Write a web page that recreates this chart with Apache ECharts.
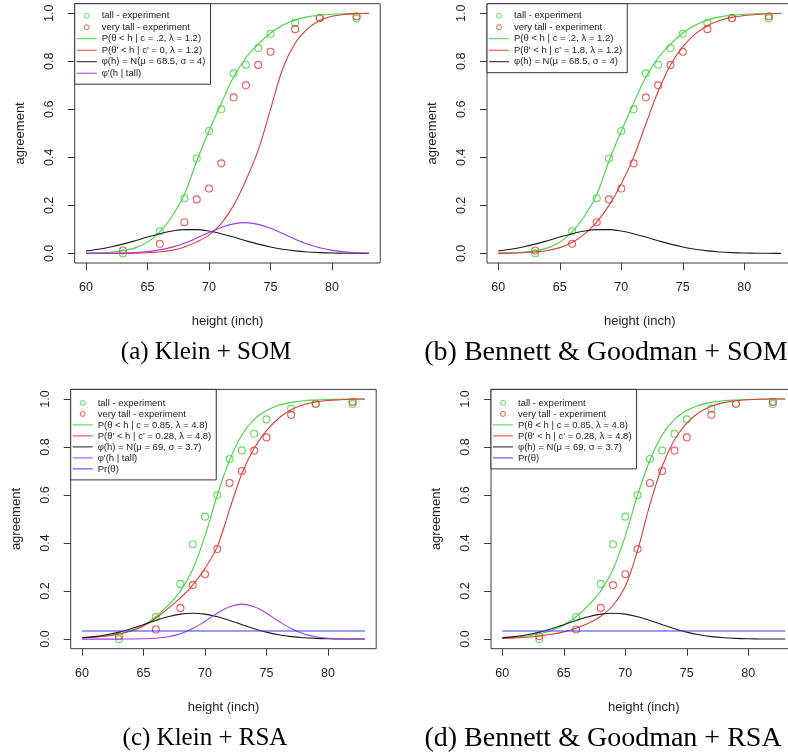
<!DOCTYPE html>
<html>
<head>
<meta charset="utf-8">
<script src="https://cdn.jsdelivr.net/npm/echarts@6/dist/echarts.min.js"></script>
<style>
  html, body { margin: 0; padding: 0; background: #fff; }
  #chart { width: 788px; height: 755px; }
</style>
</head>
<body>
<div id="chart"></div>
<script>
// ---- axis ticks ----
const xTicks = [60, 65, 70, 75, 80];
const yTicks = [0, 0.2, 0.4, 0.6, 0.8, 1.0];

// ---- experimental agreement ratings ----
const expHeights  = [63, 66, 68, 69, 70, 71, 72, 73, 74, 75, 77, 79, 82];
const tallExp     = [0.0, 0.092, 0.23, 0.395, 0.51, 0.6, 0.75, 0.786, 0.855, 0.915, 0.96, 0.98, 0.979];
const veryTallExp = [0.012, 0.04, 0.13, 0.225, 0.27, 0.375, 0.65, 0.7, 0.785, 0.84, 0.934, 0.98, 0.988];

// ---- model curves, sampled at each inch from 60 to 83 ----
const curveHeights = [60, 61, 62, 63, 64, 65, 66, 67, 68, 69, 70, 71, 72, 73, 74, 75, 76, 77, 78, 79, 80, 81, 82, 83];

// P(θ < h | c = .2, λ = 1.2)
const tallSOM = [0.001, 0.002, 0.005, 0.011, 0.023, 0.047, 0.09, 0.155, 0.245, 0.385, 0.51, 0.625, 0.735, 0.815, 0.872, 0.918, 0.95, 0.972, 0.985, 0.992, 0.996, 0.998, 0.999, 1.0];
// P(θ' < h | c' = 0, λ = 1.2)
const veryTallKleinSOM = [0.0, 0.0, 0.0, 0.0, 0.001, 0.003, 0.006, 0.013, 0.027, 0.048, 0.076, 0.125, 0.2, 0.305, 0.43, 0.6, 0.77, 0.875, 0.935, 0.97, 0.988, 0.995, 0.998, 1.0];
// P(θ' < h | c' = 1.8, λ = 1.2)
const veryTallBGSOM = [0.0, 0.001, 0.003, 0.006, 0.012, 0.024, 0.045, 0.08, 0.13, 0.2, 0.29, 0.4, 0.54, 0.675, 0.785, 0.86, 0.913, 0.948, 0.97, 0.983, 0.991, 0.995, 0.998, 0.999];
// φ(h) = N(μ = 68.5, σ = 4)
const priorSOM = [0.0104, 0.0172, 0.0266, 0.0387, 0.0529, 0.068, 0.082, 0.093, 0.099, 0.099, 0.093, 0.082, 0.068, 0.0529, 0.0387, 0.0266, 0.0172, 0.0104, 0.0059, 0.0032, 0.0016, 0.0008, 0.0003, 0.0001];
// φ'(h | tall), Klein + SOM
const posteriorSOM = [0.0001, 0.0002, 0.0006, 0.0014, 0.0034, 0.0073, 0.0145, 0.026, 0.0425, 0.0637, 0.087, 0.108, 0.123, 0.128, 0.121, 0.1046, 0.0824, 0.0592, 0.0388, 0.0232, 0.0127, 0.0063, 0.0029, 0.0012];

// P(θ < h | c = 0.85, λ = 4.8)
const tallRSA = [0.005, 0.008, 0.013, 0.022, 0.036, 0.058, 0.093, 0.14, 0.2, 0.29, 0.43, 0.6, 0.745, 0.85, 0.915, 0.952, 0.974, 0.986, 0.993, 0.996, 0.998, 0.999, 1.0, 1.0];
// P(θ' < h | c' = 0.28, λ = 4.8), Klein
const veryTallKleinRSA = [0.005, 0.008, 0.013, 0.021, 0.034, 0.055, 0.087, 0.128, 0.172, 0.225, 0.295, 0.385, 0.54, 0.69, 0.795, 0.868, 0.92, 0.955, 0.976, 0.988, 0.994, 0.997, 0.999, 1.0];
// P(θ' < h | c' = 0.28, λ = 4.8), Bennett & Goodman
const veryTallBGRSA = [0.003, 0.005, 0.008, 0.013, 0.02, 0.03, 0.045, 0.066, 0.095, 0.14, 0.22, 0.37, 0.56, 0.72, 0.83, 0.9, 0.944, 0.97, 0.985, 0.993, 0.997, 0.999, 1.0, 1.0];
// φ(h) = N(μ = 69, σ = 3.7)
const priorRSA = [0.0056, 0.0104, 0.018, 0.0289, 0.0433, 0.06, 0.0776, 0.0931, 0.104, 0.1078, 0.104, 0.0931, 0.0776, 0.06, 0.0433, 0.0289, 0.018, 0.0104, 0.0056, 0.0028, 0.0013, 0.0006, 0.0002, 0.0001];
// φ'(h | tall), Klein + RSA
const posteriorRSA = [0.0, 0.0, 0.0, 0.0001, 0.0003, 0.0012, 0.0037, 0.0098, 0.0224, 0.044, 0.0742, 0.108, 0.135, 0.1456, 0.135, 0.108, 0.0742, 0.044, 0.0224, 0.0098, 0.0037, 0.0012, 0.0003, 0.0001];
// Pr(θ), flat over the height range
const thetaPriorHeights = [60, 83];
const thetaPrior = [0.034, 0.034];

// ---- styling ----
const SANS = '"Liberation Sans", Arial, Helvetica, sans-serif';
const SERIF = '"Liberation Serif", "Times New Roman", serif';
const COL = {
  tall: '#3fd63f',
  veryTall: '#e23a3a',
  prior: '#1c1c1c',
  posterior: '#a03ce8',
  theta: '#3a3af0'
};
const TEXT = '#1e1e1e';
const FRAME = '#3a3a3a';
// a plain horizontal stroke used as the legend key for curves
const LINE_KEY = 'path://M0,0h20v1h-20z';

const NAME_TALL = 'tall - experiment';
const NAME_VTALL = 'very tall - experiment';

const pairs = (xs, ys) => xs.map((x, i) => [x, ys[i]]);

const panels = [
  {
    left: 74.7, top: 3.7, caption: '(a) Klein + SOM', capX: 206, capY: 352.5, capSize: 25,
    legendGap: 1.5, legendPadTop: 7,
    lines: [
      { name: 'P(θ < h | c = .2, λ = 1.2)', xs: curveHeights, ys: tallSOM, color: COL.tall },
      { name: "P(θ' < h | c' = 0, λ = 1.2)", xs: curveHeights, ys: veryTallKleinSOM, color: COL.veryTall },
      { name: 'φ(h) = N(μ = 68.5, σ = 4)', xs: curveHeights, ys: priorSOM, color: COL.prior },
      { name: "φ'(h | tall)", xs: curveHeights, ys: posteriorSOM, color: COL.posterior }
    ]
  },
  {
    left: 487, top: 3.7, caption: '(b) Bennett & Goodman + SOM', capX: 606, capY: 352.5, capSize: 28,
    legendGap: 1.5, legendPadTop: 7,
    lines: [
      { name: 'P(θ < h | c = .2, λ = 1.2)', xs: curveHeights, ys: tallSOM, color: COL.tall },
      { name: "P(θ' < h | c' = 1.8, λ = 1.2)", xs: curveHeights, ys: veryTallBGSOM, color: COL.veryTall },
      { name: 'φ(h) = N(μ = 68.5, σ = 4)', xs: curveHeights, ys: priorSOM, color: COL.prior }
    ]
  },
  {
    left: 70.7, top: 389.4, caption: '(c) Klein + RSA', capX: 205, capY: 738.5, capSize: 25,
    legendGap: 1, legendPadTop: 8.5,
    lines: [
      { name: 'P(θ < h | c = 0.85, λ = 4.8)', xs: curveHeights, ys: tallRSA, color: COL.tall },
      { name: "P(θ' < h | c' = 0.28, λ = 4.8)", xs: curveHeights, ys: veryTallKleinRSA, color: COL.veryTall },
      { name: 'φ(h) = N(μ = 69, σ = 3.7)', xs: curveHeights, ys: priorRSA, color: COL.prior },
      { name: "φ'(h | tall)", xs: curveHeights, ys: posteriorRSA, color: COL.posterior },
      { name: 'Pr(θ)', xs: thetaPriorHeights, ys: thetaPrior, color: COL.theta }
    ]
  },
  {
    left: 491, top: 389.4, caption: '(d) Bennett & Goodman + RSA', capX: 603, capY: 738.5, capSize: 28,
    legendGap: 1, legendPadTop: 8.5,
    lines: [
      { name: 'P(θ < h | c = 0.85, λ = 4.8)', xs: curveHeights, ys: tallRSA, color: COL.tall },
      { name: "P(θ' < h | c' = 0.28, λ = 4.8)", xs: curveHeights, ys: veryTallBGRSA, color: COL.veryTall },
      { name: 'φ(h) = N(μ = 69, σ = 3.7)', xs: curveHeights, ys: priorRSA, color: COL.prior },
      { name: 'Pr(θ)', xs: thetaPriorHeights, ys: thetaPrior, color: COL.theta }
    ]
  }
];

const GRID_W = 305.5, GRID_H = 259.3;

const grid = [], xAxis = [], yAxis = [], series = [], legend = [], graphic = [];

panels.forEach((p, i) => {
  grid.push({
    left: p.left, top: p.top, width: GRID_W, height: GRID_H,
    show: true, borderColor: FRAME, borderWidth: 1, backgroundColor: 'transparent',
    containLabel: false, outerBoundsMode: 'none'
  });
  xAxis.push({
    gridIndex: i, type: 'value', min: 59.08, max: 83.92,
    axisLine: { show: false, onZero: false },
    splitLine: { show: false },
    axisTick: { show: true, length: 7, customValues: xTicks, lineStyle: { color: FRAME, width: 1 } },
    axisLabel: { customValues: xTicks, margin: 18, fontSize: 12.5, fontFamily: SANS, color: TEXT },
    name: 'height (inch)', nameLocation: 'middle', nameGap: 52,
    nameTextStyle: { fontSize: 13, fontFamily: SANS, color: TEXT }
  });
  yAxis.push({
    gridIndex: i, type: 'value', min: -0.04, max: 1.04,
    axisLine: { show: false, onZero: false },
    splitLine: { show: false },
    axisTick: { show: true, length: 7, customValues: yTicks, lineStyle: { color: FRAME, width: 1 } },
    axisLabel: {
      customValues: yTicks, rotate: 90, margin: 19, fontSize: 12.5, fontFamily: SANS, color: TEXT,
      formatter: v => Number(v).toFixed(1)
    },
    name: 'agreement', nameLocation: 'middle', nameGap: 48,
    nameTextStyle: { fontSize: 13, fontFamily: SANS, color: TEXT }
  });

  // experiment points: open circles
  [[NAME_TALL, tallExp, COL.tall], [NAME_VTALL, veryTallExp, COL.veryTall]].forEach(([name, ys, color]) => {
    series.push({
      type: 'scatter', name, xAxisIndex: i, yAxisIndex: i,
      symbol: 'circle', symbolSize: 7,
      itemStyle: { color: 'rgba(0,0,0,0)', borderColor: color, borderWidth: 1.1 },
      data: pairs(expHeights, ys), silent: true, z: 2
    });
  });

  // model curves
  p.lines.forEach(l => {
    series.push({
      type: 'line', name: l.name, xAxisIndex: i, yAxisIndex: i,
      symbol: 'none', showSymbol: false, smooth: 0.35,
      lineStyle: { color: l.color, width: 1.1 }, itemStyle: { color: l.color },
      data: pairs(l.xs, l.ys), silent: true, z: 3
    });
  });

  legend.push({
    left: p.left, top: p.top, orient: 'vertical',
    itemWidth: 20, itemHeight: 5, itemGap: p.legendGap,
    padding: [p.legendPadTop, 5, 6, 2],
    borderColor: '#333', borderWidth: 1, backgroundColor: '#fff',
    selectedMode: false, symbolKeepAspect: true, z: 10,
    textStyle: { fontSize: 9.5, fontFamily: SANS, color: TEXT },
    data: [
      { name: NAME_TALL, icon: 'circle', itemStyle: { color: 'rgba(0,0,0,0)', borderColor: COL.tall, borderWidth: 1 } },
      { name: NAME_VTALL, icon: 'circle', itemStyle: { color: 'rgba(0,0,0,0)', borderColor: COL.veryTall, borderWidth: 1 } }
    ].concat(p.lines.map(l => ({
      name: l.name, icon: LINE_KEY,
      itemStyle: { color: l.color, borderWidth: 0 }
    })))
  });

  graphic.push({
    type: 'text', x: p.capX, y: p.capY, silent: true,
    style: {
      text: p.caption, font: p.capSize + 'px ' + SERIF, fill: '#000',
      align: 'center', verticalAlign: 'middle'
    }
  });
});

const chart = echarts.init(document.getElementById('chart'), null, { renderer: 'canvas' });
chart.setOption({
  backgroundColor: '#fff',
  animation: false,
  grid, xAxis, yAxis, series, legend, graphic
});
</script>
</body>
</html>
